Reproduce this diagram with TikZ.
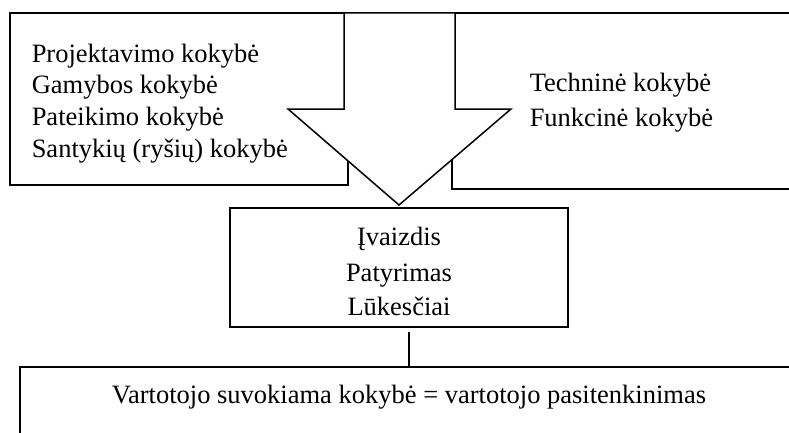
\documentclass[tikz,border=0pt]{standalone}
\usepackage{fontspec}
\setmainfont{Liberation Serif}
\begin{document}
\begin{tikzpicture}[x=1pt,y=1pt,
  line width=1.5pt,
  lbl/.style={inner sep=0pt, font=\fontsize{26.5}{31}\selectfont},
  frame/.style={draw, line width=1.5pt, fill=white, line join=miter}]
\useasboundingbox (0,0) rectangle (789,432);
% left box
\path[frame] (10,419) rectangle (348,247);
% right box (runs off the page)
\path[frame] (452,419) rectangle (795,243);
% big arrow
\path[frame] (344,419) -- (455,419) -- (455,323) -- (511,323) -- (399,227) -- (288,323) -- (344,323) -- cycle;
% middle box
\node[draw, line width=1.5pt, inner sep=0pt, outer sep=0pt, minimum width=338pt, minimum height=119pt] (M) at (399,164.5) {};
% bottom box (runs off the page)
\coordinate (BT) at (20,65);
\path[frame] (BT) rectangle (795,-6);
\draw[shorten <=5pt] ([xshift=10pt]M.south) -- ([xshift=10pt]M.south |- BT);
% left texts
\node[lbl, anchor=base west] (l1) at (31,369) {Projektavimo kokybė};
\node[lbl, anchor=base west] (l2) at (31,338) {Gamybos kokybė};
\node[lbl, anchor=base west] (l3) at (31,307) {Pateikimo kokybė};
\node[lbl, anchor=base west] (l4) at (31,275) {Santykių (ryšių) kokybė};
% right texts
\node[lbl, anchor=base west] (r1) at (529,341) {Techninė kokybė};
\node[lbl, anchor=base west] (r2) at (529,306) {Funkcinė kokybė};
% middle texts
\node[lbl, anchor=base] (m1) at (399,187) {Įvaizdis};
\node[lbl, anchor=base] (m2) at (399,151) {Patyrimas};
\node[lbl, anchor=base] (m3) at (399,117) {Lūkesčiai};
% bottom text
\node[lbl, anchor=base] (b1) at (409,29) {Vartotojo suvokiama kokybė = vartotojo pasitenkinimas};
\end{tikzpicture}
\end{document}
